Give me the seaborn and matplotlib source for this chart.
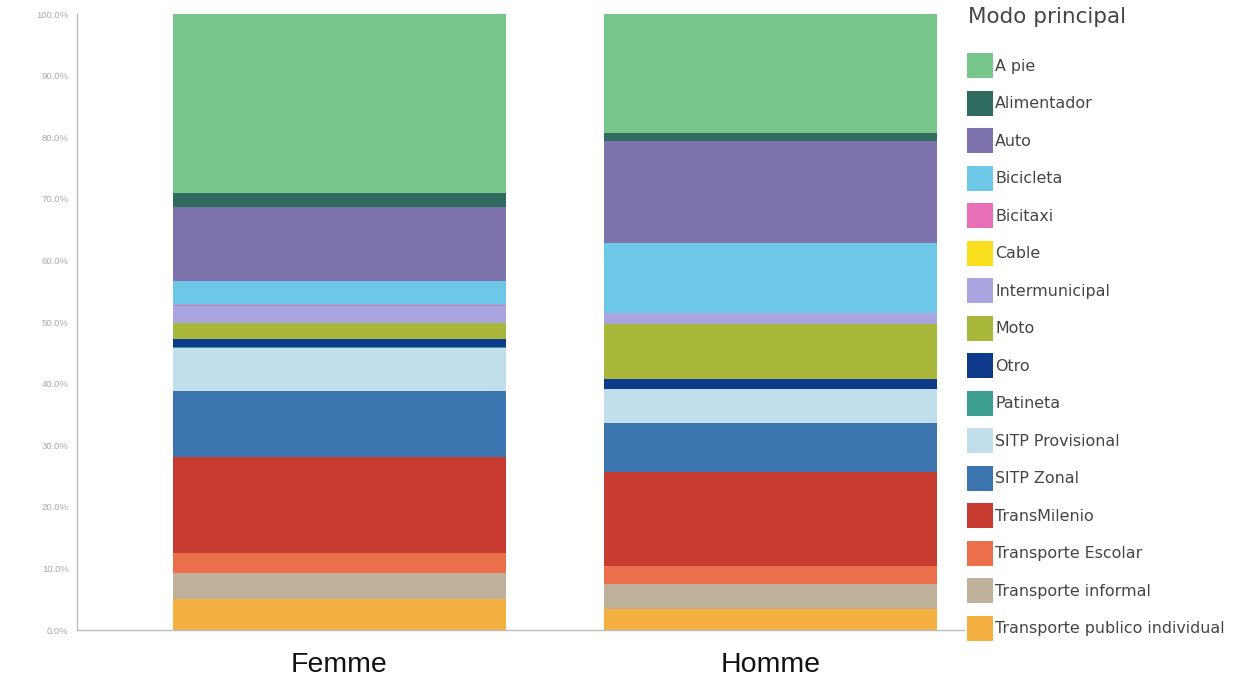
import matplotlib
matplotlib.use("Agg")
import matplotlib.pyplot as plt
import seaborn as sns
import pandas as pd
from matplotlib.patches import Patch

generos = ["Femme", "Homme"]
modos = ["A pie", "Alimentador", "Auto", "Bicicleta", "Bicitaxi", "Cable",
         "Intermunicipal", "Moto", "Otro", "Patineta", "SITP Provisional",
         "SITP Zonal", "TransMilenio", "Transporte Escolar",
         "Transporte informal", "Transporte publico individual"]
femme = [29.1, 2.3, 12.0, 3.9, 0.05, 0.0, 2.8, 2.6, 1.3, 0.1, 7.1, 10.7,
         15.6, 3.25, 4.2, 5.0]
homme = [19.35, 1.3, 16.5, 11.4, 0.05, 0.0, 1.8, 8.9, 1.5, 0.1, 5.5, 8.0,
         15.2, 2.9, 4.1, 3.4]
colores = ["#78C68C", "#2F6B5E", "#7D72AE", "#6CC8E6", "#E96FB8", "#F9DE1E",
           "#AAA4E0", "#A9B83A", "#0D3A8A", "#3B9E8E", "#C1DEEA", "#3C74B0",
           "#C83B30", "#EC6F4C", "#BFB09A", "#F4B040"]
yticks = [0, 10, 20, 30, 40, 50, 60, 70, 80, 90, 100]

rows = []
for g, vals in zip(generos, [femme, homme]):
    for m, v in zip(modos, vals):
        rows.append({"genero": g, "modo": m, "pct": v})
df = pd.DataFrame(rows)
df["genero"] = pd.Categorical(df["genero"], categories=generos)

sns.set_style("white")
plt.rcParams["font.family"] = ["Liberation Sans", "DejaVu Sans"]

fig = plt.figure(figsize=(12.42, 6.79), dpi=100)
ax = fig.add_axes([77 / 1242, 49 / 679, (964.5 - 77) / 1242, (630 - 14) / 679])

pal = dict(zip(modos, colores))
sns.histplot(data=df, x="genero", hue="modo", weights="pct", hue_order=modos,
             multiple="stack", discrete=True, shrink=0.773, palette=pal,
             alpha=1, linewidth=0, edgecolor="none", legend=False, ax=ax)

ax.set_xlim(-0.609, 1.45)
ax.set_ylim(0, 100)
ax.set_yticks(yticks)
ax.set_yticklabels([f"{t:.1f}%" for t in yticks], fontsize=6.8, color="#AAAAAA")
ax.set_xlabel("")
ax.set_ylabel("")
ax.tick_params(axis="x", length=0, labelsize=20.5, labelcolor="#111111", pad=16)
ax.tick_params(axis="y", length=4, color="#CCCCCC", width=0.8, pad=2)
for s in ["top", "right"]:
    ax.spines[s].set_visible(False)
for s in ["left", "bottom"]:
    ax.spines[s].set_color("#BBBBBB")
    ax.spines[s].set_linewidth(1.0)
ax.grid(False)

fig.text(968 / 1242, 1 - 17 / 679, "Modo principal", ha="left", va="center",
         fontsize=15.5, color="#444444", family=["DejaVu Sans"])

handles = [Patch(facecolor=c, edgecolor="none") for c in colores]
leg = fig.legend(handles, modos, loc="upper left",
                 bbox_to_anchor=(961 / 1242, 1 - 47 / 679), frameon=False,
                 prop={"family": ["DejaVu Sans"], "size": 11.4},
                 handlelength=1.64, handleheight=2.05, labelspacing=0.79,
                 handletextpad=0.12, borderaxespad=0.0)
for t in leg.get_texts():
    t.set_color("#444444")

fig.savefig("out.png", dpi=100)
